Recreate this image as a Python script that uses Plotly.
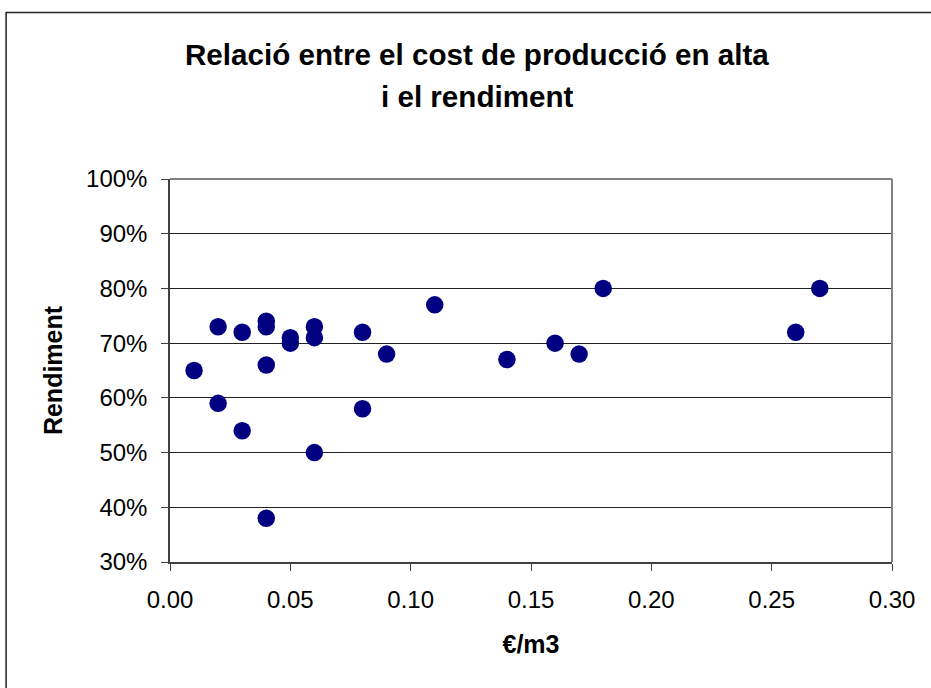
import plotly.graph_objects as go

cost = [0.01, 0.02, 0.02, 0.03, 0.03, 0.04, 0.04, 0.04, 0.04, 0.05, 0.05,
        0.06, 0.06, 0.06, 0.08, 0.08, 0.09, 0.11, 0.14, 0.16, 0.17, 0.18,
        0.26, 0.27]
rendiment = [0.65, 0.73, 0.59, 0.72, 0.54, 0.74, 0.73, 0.66, 0.38, 0.71, 0.70,
             0.73, 0.71, 0.50, 0.72, 0.58, 0.68, 0.77, 0.67, 0.70, 0.68, 0.80,
             0.72, 0.80]

title_line1 = "Relació entre el cost de producció en alta"
title_line2 = "i el rendiment"
x_title = "€/m3"
y_title = "Rendiment"
x_ticks = [0.00, 0.05, 0.10, 0.15, 0.20, 0.25, 0.30]
y_ticks = [0.3, 0.4, 0.5, 0.6, 0.7, 0.8, 0.9, 1.0]

W, H = 931, 688
L, R, T, B = 170, 892.5, 179.3, 561.7

fig = go.Figure(go.Scatter(
    x=cost, y=rendiment, mode="markers",
    marker=dict(size=17.5, color="#000080", line=dict(width=0)),
    hoverinfo="x+y", showlegend=False,
))

font = "Liberation Sans, Arial, sans-serif"

fig.update_layout(
    width=W, height=H,
    margin=dict(l=L, r=W - R, t=T, b=H - B, pad=0),
    paper_bgcolor="white", plot_bgcolor="white",
    font=dict(family=font, color="black", size=24),
    xaxis=dict(
        range=[0, 0.30], tickvals=x_ticks, tickformat=".2f",
        showgrid=False, zeroline=False,
        showline=True, linecolor="#404040", linewidth=1.5, mirror=False,
        ticks="outside", ticklen=7, tickcolor="#404040", tickwidth=1,
        tickfont=dict(size=24), ticklabelstandoff=8,
        title=dict(text="<b>" + x_title + "</b>", font=dict(size=25), standoff=24),
    ),
    yaxis=dict(
        range=[0.3, 1.0], tickvals=y_ticks, tickformat=".0%",
        showgrid=True, gridcolor="#222222", gridwidth=1, zeroline=False,
        showline=True, linecolor="#404040", linewidth=1.5,
        ticks="outside", ticklen=7, tickcolor="#404040", tickwidth=1,
        tickfont=dict(size=24), ticklabelstandoff=9,
        title=dict(text="<b>" + y_title + "</b>", font=dict(size=25), standoff=16),
    ),
    shapes=[
        dict(type="line", xref="paper", yref="paper", x0=1, x1=1, y0=0, y1=1,
             line=dict(color="#808080", width=2)),
        dict(type="line", xref="paper", yref="paper", x0=0, x1=1, y0=1, y1=1,
             line=dict(color="#808080", width=2)),
        dict(type="rect", xref="paper", yref="paper",
             x0=(6 - L) / (R - L), x1=1.2, y0=-0.6, y1=(B - 13) / (B - T),
             line=dict(color="#222222", width=1.5), fillcolor="rgba(0,0,0,0)"),
    ],
    annotations=[
        dict(text="<b>" + title_line1 + "</b>", xref="paper", yref="paper",
             x=(477.5 - L) / (R - L), y=(B - 55) / (B - T),
             xanchor="center", yanchor="middle", showarrow=False,
             font=dict(size=29.6)),
        dict(text="<b>" + title_line2 + "</b>", xref="paper", yref="paper",
             x=(477.5 - L) / (R - L), y=(B - 97) / (B - T),
             xanchor="center", yanchor="middle", showarrow=False,
             font=dict(size=29.6)),
    ],
)

fig.write_html("out.html", config={"displayModeBar": False},
               post_script="document.body.style.margin='0';document.body.style.overflow='hidden';")
